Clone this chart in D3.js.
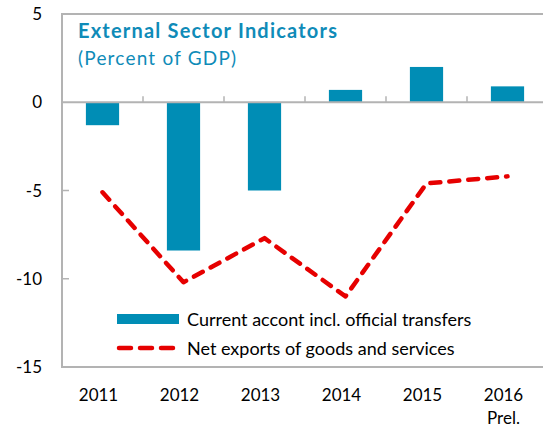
<!DOCTYPE html>
<html>
<head>
<meta charset="utf-8">
<script src="https://cdn.jsdelivr.net/npm/d3@7"></script>
<style>
  html, body { margin: 0; padding: 0; background: #fff; }
  svg { display: block; font-family: Lato, "Open Sans", sans-serif; }
</style>
</head>
<body>
<svg id="chart" width="543" height="429"></svg>
<script>
// ── Data ──────────────────────────────────────────────
const years       = ['2011', '2012', '2013', '2014', '2015', '2016'];
const yearSub     = ['', '', '', '', '', 'Prel.'];
const currentAcct = [-1.3, -8.4, -5.0, 0.7, 2.0, 0.9];
const netExports  = [-5.1, -10.2, -7.7, -11.0, -4.6, -4.2];
const yTicks      = [5, 0, -5, -10, -15];

const BLUE = '#008db5';
const RED  = '#e60000';
const AXIS = '#b3b3b3';

const svg = d3.select('#chart');

const M = { left: 62, top: 14, bottom: 367, right: 548 };

const x = d3.scaleBand()
    .domain(years)
    .range([M.left, M.right])
    .paddingInner(0.59)
    .paddingOuter(0.295);

const y = d3.scaleLinear().domain([-15, 5]).range([M.bottom, M.top]);

const step = x.step();
const cx = d => x(d) + x.bandwidth() / 2;

// ── Frame ─────────────────────────────────────────────
svg.append('rect')
    .attr('x', M.left).attr('y', M.top)
    .attr('width', M.right - M.left).attr('height', M.bottom - M.top)
    .attr('fill', 'none')
    .attr('stroke', AXIS)
    .attr('stroke-width', 2);

// y ticks (inside, pointing right)
svg.selectAll('.ytick')
    .data(yTicks.filter(v => v !== 5 && v !== -15 && v !== 0))
    .join('line')
    .attr('x1', M.left).attr('x2', M.left + 7)
    .attr('y1', d => y(d)).attr('y2', d => y(d))
    .attr('stroke', AXIS).attr('stroke-width', 1.5);

svg.selectAll('.ylab')
    .data(yTicks)
    .join('text')
    .attr('x', 42)
    .attr('y', d => y(d) + 6)
    .attr('text-anchor', 'end')
    .attr('font-size', 17)
    .attr('fill', '#000')
    .text(d => d);

// ── Bars ──────────────────────────────────────────────
svg.selectAll('.bar')
    .data(years)
    .join('rect')
    .attr('x', d => x(d))
    .attr('width', x.bandwidth())
    .attr('y', (d, i) => y(Math.max(0, currentAcct[i])))
    .attr('height', (d, i) => Math.abs(y(currentAcct[i]) - y(0)))
    .attr('fill', BLUE);

// zero axis + category ticks pointing up
svg.append('line')
    .attr('x1', M.left).attr('x2', M.right)
    .attr('y1', y(0)).attr('y2', y(0))
    .attr('stroke', AXIS).attr('stroke-width', 2);

svg.selectAll('.xtick')
    .data(years.slice(1))
    .join('line')
    .attr('x1', d => x(d) - step * 0.295).attr('x2', d => x(d) - step * 0.295)
    .attr('y1', y(0) - 6).attr('y2', y(0))
    .attr('stroke', AXIS).attr('stroke-width', 1.5);

// ── Line ──────────────────────────────────────────────
const line = d3.line()
    .x((d, i) => cx(years[i]))
    .y(d => y(d));

svg.append('path')
    .datum(netExports)
    .attr('d', line)
    .attr('fill', 'none')
    .attr('stroke', RED)
    .attr('stroke-width', 4.5)
    .attr('stroke-linecap', 'round')
    .attr('stroke-linejoin', 'round')
    .attr('stroke-dasharray', '10 9');

// ── X labels ──────────────────────────────────────────
svg.selectAll('.xlab')
    .data(years)
    .join('text')
    .attr('x', d => cx(d) - 4)
    .attr('y', 401)
    .attr('text-anchor', 'middle')
    .attr('font-size', 17)
    .attr('fill', '#000')
    .text(d => d);

svg.selectAll('.xsub')
    .data(years.filter((d, i) => yearSub[i]))
    .join('text')
    .attr('x', d => cx(d) - 4)
    .attr('y', 424)
    .attr('text-anchor', 'middle')
    .attr('font-size', 17)
    .attr('fill', '#000')
    .text(d => yearSub[years.indexOf(d)]);

// ── Title ─────────────────────────────────────────────
svg.append('text')
    .attr('x', 78).attr('y', 38)
    .attr('font-size', 20)
    .attr('font-weight', 700)
    .attr('letter-spacing', 1.2)
    .attr('fill', '#0f8bb8')
    .text('External Sector Indicators');

svg.append('text')
    .attr('x', 78).attr('y', 65)
    .attr('font-size', 19)
    .attr('letter-spacing', 1.2)
    .attr('fill', '#0f8bb8')
    .text('(Percent of GDP)');

// ── Legend ────────────────────────────────────────────
svg.append('rect')
    .attr('x', 117).attr('y', 314)
    .attr('width', 62).attr('height', 10)
    .attr('fill', BLUE);

svg.append('text')
    .attr('x', 187).attr('y', 326)
    .attr('font-size', 18)
    .attr('fill', '#000')
    .text('Current accont incl. official transfers');

svg.append('line')
    .attr('x1', 119).attr('x2', 175)
    .attr('y1', 348).attr('y2', 348)
    .attr('stroke', RED)
    .attr('stroke-width', 4.5)
    .attr('stroke-linecap', 'round')
    .attr('stroke-dasharray', '12 9');

svg.append('text')
    .attr('x', 187).attr('y', 355)
    .attr('font-size', 18)
    .attr('fill', '#000')
    .text('Net exports of goods and services');
</script>
</body>
</html>
